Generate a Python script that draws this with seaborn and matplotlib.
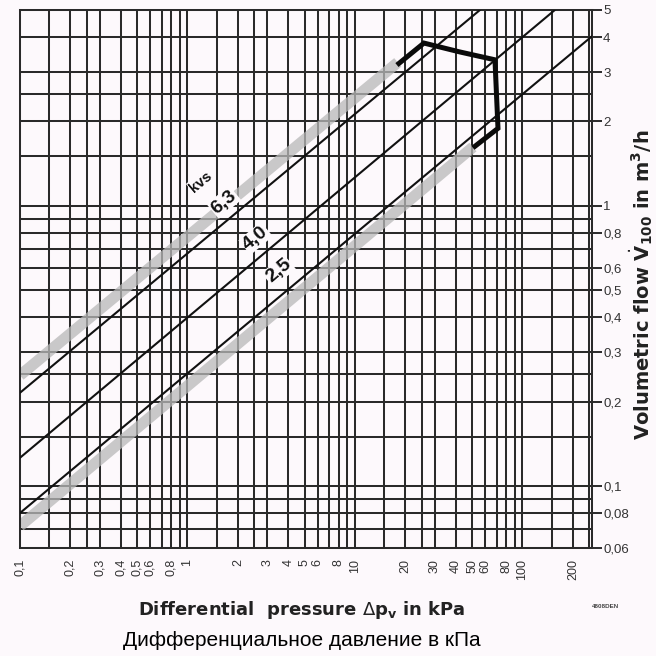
import numpy as np
import pandas as pd
import matplotlib
matplotlib.use("Agg")
import matplotlib.pyplot as plt
import seaborn as sns

# ---------------- data ----------------
x_major = [0.1, 0.2, 0.3, 0.4, 0.5, 0.6, 0.8, 1, 2, 3, 4, 5, 6, 8, 10, 20, 30, 40, 50, 60, 80, 100, 200]
x_labels = ["0,1", "0,2", "0,3", "0,4", "0,5", "0,6", "0,8", "1", "2", "3", "4", "5", "6", "8",
            "10", "20", "30", "40", "50", "60", "80", "100", "200"]
y_major = [5, 4, 3, 2, 1, 0.8, 0.6, 0.5, 0.4, 0.3, 0.2, 0.1, 0.08, 0.06]
y_labels = ["5", "4", "3", "2", "1", "0,8", "0,6", "0,5", "0,4", "0,3", "0,2", "0,1", "0,08", "0,06"]
grid_steps = [1, 1.5, 2, 2.5, 3, 4, 5, 6, 7, 8, 9]
x_grid = [s * d for d in [0.1, 1, 10, 100] for s in grid_steps if s * d <= 255]
y_grid = [s * d for d in [0.01, 0.1, 1] for s in grid_steps if 0.06 <= s * d <= 5]

# kvs lines: (dp at start, dp at end) and (flow at start, flow at end)
kvs_names = ["6,3", "4,0", "2,5"]
kvs_dp = [[0.1, 55.7], [0.1, 156], [0.1, 260]]
kvs_q = [[0.215, 5.0], [0.126, 5.0], [0.080, 4.03]]

# grey bands
band_dp = [[0.1, 18.0], [0.1, 50.6]]
band_q = [[0.248, 3.25], [0.0719, 1.62]]

# thick black bracket
bracket_dp = [17.8, 25.8, 42.4, 68.5, 71.4, 50.6]
bracket_q = [3.18, 3.81, 3.54, 3.32, 1.89, 1.61]

# label positions
lab_text = ["kvs", "6,3", "4,0", "2,5"]
lab_dp = [1.20, 1.65, 2.55, 3.50]
lab_q = [1.22, 1.03, 0.765, 0.585]
lab_size = [10.5, 14, 14, 14]

# ---------------- figure ----------------
sns.set_style("white")
plt.rcParams['font.family'] = ['Liberation Sans', 'DejaVu Sans']
plt.rcParams['mathtext.fontset'] = 'dejavusans'

bg = "#fdf9fc"
fig = plt.figure(figsize=(6.56, 6.56), dpi=100, facecolor=bg)
ax = fig.add_axes([20 / 656, 1 - 548 / 656, 572 / 656, 538 / 656])
ax.set_facecolor(bg)
ax.set_xscale("log")
ax.set_yscale("log")
ax.set_xlim(0.1, 260)
ax.set_ylim(0.06, 5)

gcol = "#2a2a2a"
for xv in x_grid:
    ax.axvline(xv, color=gcol, lw=1.45, zorder=1)
for yv in y_grid:
    ax.axhline(yv, color=gcol, lw=1.45, zorder=1)

# grey bands
for dps, qs in zip(band_dp, band_q):
    df = pd.DataFrame({"dp": dps, "q": qs})
    sns.lineplot(data=df, x="dp", y="q", ax=ax, color="#b8b8b8", lw=8,
                 alpha=0.75, zorder=2, legend=False, solid_capstyle="butt")

# kvs lines
for dps, qs in zip(kvs_dp, kvs_q):
    df = pd.DataFrame({"dp": dps, "q": qs})
    sns.lineplot(data=df, x="dp", y="q", ax=ax, color="#111111", lw=1.5,
                 zorder=3, legend=False)

# bracket
dfb = pd.DataFrame({"dp": bracket_dp, "q": bracket_q})
sns.lineplot(data=dfb, x="dp", y="q", ax=ax, color="#0a0a0a", lw=3.6, sort=False,
             zorder=4, legend=False, solid_joinstyle="miter", solid_capstyle="butt")

for t, xv, yv, s in zip(lab_text, lab_dp, lab_q, lab_size):
    ax.text(xv, yv, t, rotation=40, fontsize=s, fontweight="bold", ha="center",
            va="center", color="#111111", zorder=5, rotation_mode="anchor",
            bbox=dict(boxstyle="square,pad=0.05", fc=bg, ec="none"))

# ticks
ax.set_xticks(x_major)
ax.set_xticklabels(x_labels, rotation=90, fontsize=9, color="#333333")
ax.xaxis.set_minor_locator(matplotlib.ticker.NullLocator())
ax.yaxis.tick_right()
ax.set_yticks(y_major)
ax.set_yticklabels(y_labels, fontsize=9.5, color="#333333")
ax.yaxis.set_minor_locator(matplotlib.ticker.NullLocator())
ax.tick_params(axis="x", direction="out", length=4, width=1.4, color=gcol, pad=4)
ax.tick_params(axis="y", direction="out", length=7, width=1.4, color=gcol, pad=1)
for sp in ax.spines.values():
    sp.set_color(gcol)
    sp.set_linewidth(1.45)

ax.set_xlabel("")
ax.set_ylabel("")
fig.text(302 / 656, 1 - 610 / 656, r"Differential  pressure $\Delta\mathbf{p}_{\mathbf{v}}$ in kPa",
         ha="center", va="center", fontsize=13, fontweight="bold", color="#222222",
         family="DejaVu Sans")
fig.text(302 / 656, 1 - 641 / 656, "Дифференциальное давление в кПа",
         ha="center", va="center", fontsize=15, color="#000000")
fig.text(641 / 656, 1 - 285 / 656, r"Volumetric flow $\dot{\mathbf{V}}_{\mathbf{100}}$ in m$^{\mathbf{3}}$/h",
         ha="center", va="center", rotation=90, fontsize=14, fontweight="bold", color="#222222",
         family="DejaVu Sans")
fig.text(605 / 656, 1 - 606 / 656, "4808DEN", ha="center", va="center", fontsize=4.5,
         fontweight="bold", color="#444444")

fig.savefig("out.png", dpi=100, facecolor=bg)
